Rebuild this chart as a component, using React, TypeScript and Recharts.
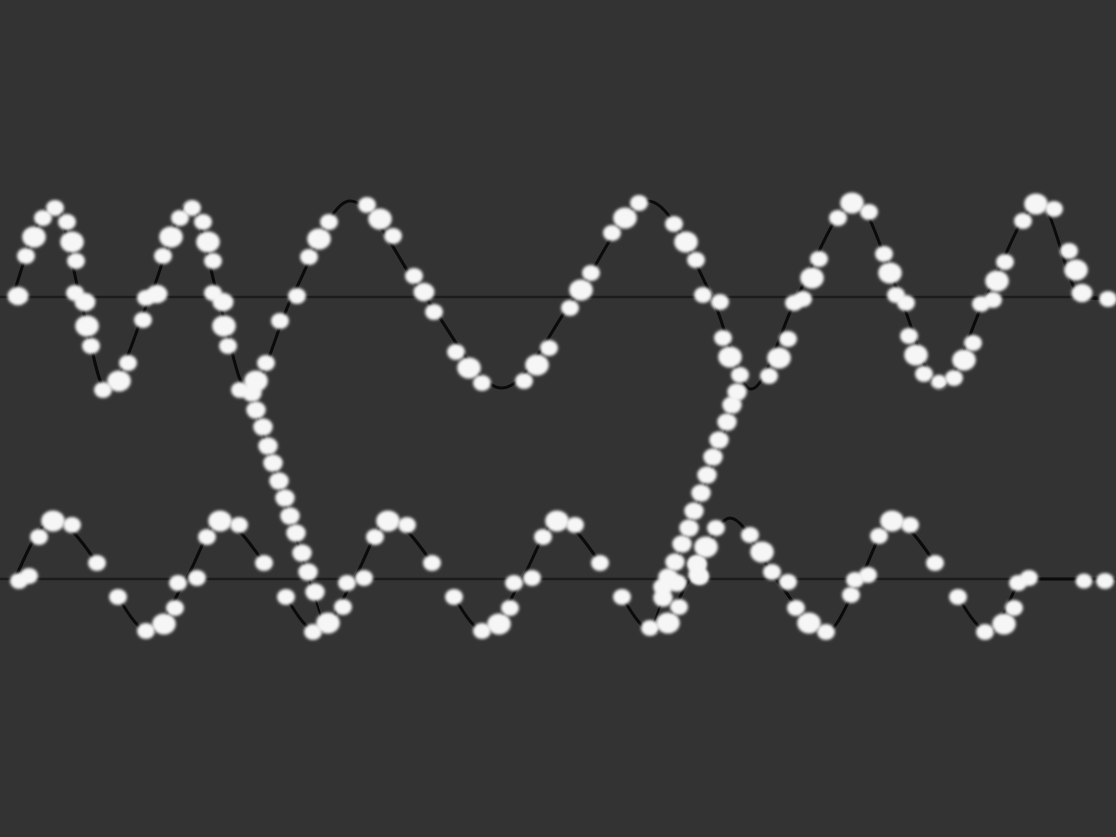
import React from 'react';
import { ComposedChart, Line, Scatter, XAxis, YAxis, ZAxis } from 'recharts';

// upper wave (values above/below its own zero line)
const upperWave: [number, number][] = [
    [12, -3], [55, 93], [80, 0], [106, -92], [150, 0], [190, 94], [218, 0], [248, -94],
    [292, 0], [350, 96], [425, 0], [502, -91], [575, 0], [648, 96], [712, 0], [751, -92],
    [797, 0], [855, 94], [900, 0], [940, -91], [986, 0], [1040, 93], [1082, 0], [1108, -2],
];

// lower wave, gaps where the line breaks
const lowerWave: [number, number | null][] = [
    [15, 0], [53, 58], [97, 16], [107, null], [118, -18], [150, -53], [186, 0],
    [220, 58], [264, 16], [275, null], [286, -18], [318, -53], [354, 0],
    [388, 58], [432, 16], [443, null], [454, -18], [486, -53], [522, 0],
    [557, 58], [600, 16], [611, null], [622, -18], [654, -53], [690, 0],
    [730, 61], [776, 0], [826, -53], [860, 0], [892, 58], [935, 16], [946, null],
    [958, -18], [990, -53], [1025, 0], [1108, 0],
];

// the two strands falling from the upper wave to the lower one
const strandA: [number, number][] = [[250, -96], [322, -323]];
const strandB: [number, number][] = [[740, -93], [653, -328]];

// zero lines
const zeroLine: [number, number][] = [[0, 0], [1116, 0]];

// blobs: [t, value, weight]
const upperBlobs: [number, number, number][] = [
    [18, 1, 2], [26, 41, 1], [34, 60, 3], [43, 79, 1], [55, 89, 1], [67, 75, 1], [72, 55, 3], [76, 36, 1],
    [75, 4, 1], [85, -5, 2], [87, -29, 3], [91, -49, 1], [103, -93, 1], [119, -84, 3], [128, -66, 1],
    [143, -23, 1], [146, -1, 1], [157, 3, 2], [163, 41, 1], [171, 60, 3], [180, 79, 1], [192, 89, 1],
    [203, 75, 1], [208, 55, 3], [213, 36, 1], [213, 4, 1], [223, -5, 2], [224, -29, 3], [228, -49, 1],
    [240, -93, 1], [256, -84, 3], [266, -66, 1], [280, -24, 1], [297, 1, 1], [309, 40, 1], [319, 58, 3],
    [329, 75, 1], [367, 92, 1], [380, 78, 3], [393, 61, 1], [414, 21, 1], [424, 5, 2], [434, -15, 1],
    [456, -55, 1], [469, -71, 3], [482, -86, 1], [524, -84, 1], [537, -68, 3], [549, -51, 1],
    [570, -11, 1], [581, 7, 3], [591, 24, 1], [612, 64, 1], [625, 79, 3], [639, 94, 1], [674, 73, 1],
    [686, 55, 3], [696, 37, 1], [703, 2, 1], [720, -5, 1], [723, -41, 1], [730, -60, 3], [740, -78, 1],
    [769, -79, 1], [779, -61, 3], [788, -42, 1], [794, -6, 1], [803, -2, 1], [812, 19, 3], [819, 38, 1],
    [838, 79, 1], [852, 94, 3], [869, 85, 1], [884, 43, 1], [890, 24, 3], [896, 2, 1], [906, -6, 1],
    [909, -39, 1], [916, -58, 3], [924, -77, 1], [939, -85, 0.5], [954, -81, 1], [964, -63, 3],
    [973, -46, 1], [981, -7, 1], [993, -3, 1], [997, 16, 3], [1005, 35, 1], [1023, 76, 1],
    [1036, 93, 3], [1054, 88, 1], [1069, 46, 1], [1076, 27, 3], [1082, 4, 2], [1108, -2, 1],
];

const strandBlobs: [number, number, number][] = [
    [252, -96, 1.5], [256, -113, 1.5], [263, -130, 1.5], [268, -149, 1.5], [273, -166, 1.5],
    [279, -184, 1.5], [285, -201, 1.5], [290, -219, 1.5], [296, -236, 1.5], [302, -256, 1.5],
    [308, -275, 1.5], [315, -295, 1.5],
    [737, -95, 1.5], [732, -108, 1.5], [727, -125, 1.5], [719, -143, 1.5], [713, -160, 1.5],
    [707, -178, 1.5], [701, -196, 1.5], [694, -214, 1.5], [689, -231, 1.5], [682, -247, 1.5],
    [675, -265, 1.5], [668, -280, 1.5], [663, -290, 1.5], [677, -286, 1.5], [663, -301, 1.5],
    [697, -268, 1.5], [698, -278, 1.5],
];

const lowerBlobs: [number, number, number][] = [
    [19, -2, 1], [29, 3, 1], [39, 42, 1], [53, 58, 3], [72, 54, 1], [97, 16, 1], [118, -18, 1],
    [146, -52, 1], [164, -45, 3], [175, -29, 1], [178, -4, 1], [197, 1, 1], [207, 42, 1], [220, 58, 3],
    [239, 54, 1], [264, 16, 1], [286, -18, 1], [313, -53, 1], [328, -44, 3], [343, -28, 1], [347, -4, 1],
    [364, 1, 1], [375, 42, 1], [388, 58, 3], [407, 54, 1], [432, 16, 1], [454, -18, 1], [482, -52, 1],
    [499, -45, 3], [510, -29, 1], [514, -4, 1], [532, 1, 1], [543, 42, 1], [557, 58, 3], [575, 54, 1],
    [600, 16, 1], [622, -18, 1], [650, -49, 1], [668, -44, 3], [679, -28, 1], [697, 16, 1], [700, 2, 1],
    [706, 32, 3], [716, 51, 1], [750, 44, 1], [762, 27, 3], [772, 7, 1], [788, -3, 1], [796, -29, 1],
    [809, -44, 3], [826, -53, 1], [851, -16, 1], [855, -1, 1], [868, 4, 1], [879, 43, 1], [892, 58, 3],
    [910, 54, 1], [935, 16, 1], [958, -18, 1], [985, -53, 1], [1004, -45, 3], [1014, -29, 1],
    [1018, -4, 1], [1029, 1, 1], [1084, -2, 0.7], [1105, -2, 1],
];

const toPts = (rows: [number, number | null][]) => rows.map(([t, v]) => ({ t, v }));
const toBlobs = (rows: [number, number, number][]) => rows.map(([t, v, w]) => ({ t, v, w }));

const Blob = (p: any) => {
    const r = (p.width ?? 16) / 2;
    return <ellipse cx={p.cx} cy={p.cy} rx={r * 1.06} ry={r * 0.94} fill="#f6f6f6" filter="url(#soft)" />;
};

const lineProps = { dot: false, activeDot: false, isAnimationActive: false } as const;

const App = () => {
    return (
        <div style={{ position: 'absolute', left: 0, top: 0, width: 1116, height: 837, background: '#333333' }}>
            <svg width={0} height={0} style={{ position: 'absolute' }}>
                <defs>
                    <filter id="soft" x="-50%" y="-50%" width="200%" height="200%">
                        <feGaussianBlur stdDeviation="1.5" />
                    </filter>
                </defs>
            </svg>
            <ComposedChart width={1116} height={837} margin={{ top: 0, right: 0, bottom: 0, left: 0 }}>
                <XAxis dataKey="t" type="number" domain={[0, 1116]} allowDataOverflow hide />
                <YAxis yAxisId="up" dataKey="v" type="number" domain={[-540, 297]} allowDataOverflow hide />
                <YAxis yAxisId="low" dataKey="v" type="number" domain={[-258, 579]} allowDataOverflow hide />
                <ZAxis dataKey="w" type="number" domain={[1, 3]} range={[185, 390]} />

                <Line yAxisId="up" data={toPts(zeroLine)} dataKey="v" type="linear" stroke="#1c1c1c" strokeWidth={2.5} {...lineProps} />
                <Line yAxisId="low" data={toPts(zeroLine)} dataKey="v" type="linear" stroke="#1c1c1c" strokeWidth={2.5} {...lineProps} />

                <Line yAxisId="up" data={toPts(upperWave)} dataKey="v" type="monotone" stroke="#0b0b0b" strokeWidth={3} {...lineProps} />
                <Line yAxisId="low" data={toPts(lowerWave)} dataKey="v" type="monotone" stroke="#0b0b0b" strokeWidth={3} {...lineProps} />
                <Line yAxisId="up" data={toPts(strandA)} dataKey="v" type="linear" stroke="#0b0b0b" strokeWidth={2} {...lineProps} />
                <Line yAxisId="up" data={toPts(strandB)} dataKey="v" type="linear" stroke="#0b0b0b" strokeWidth={2} {...lineProps} />

                <Scatter yAxisId="up" data={toBlobs(upperBlobs)} dataKey="v" shape={Blob} isAnimationActive={false} />
                <Scatter yAxisId="up" data={toBlobs(strandBlobs)} dataKey="v" shape={Blob} isAnimationActive={false} />
                <Scatter yAxisId="low" data={toBlobs(lowerBlobs)} dataKey="v" shape={Blob} isAnimationActive={false} />
            </ComposedChart>
        </div>
    );
};

export default App;
